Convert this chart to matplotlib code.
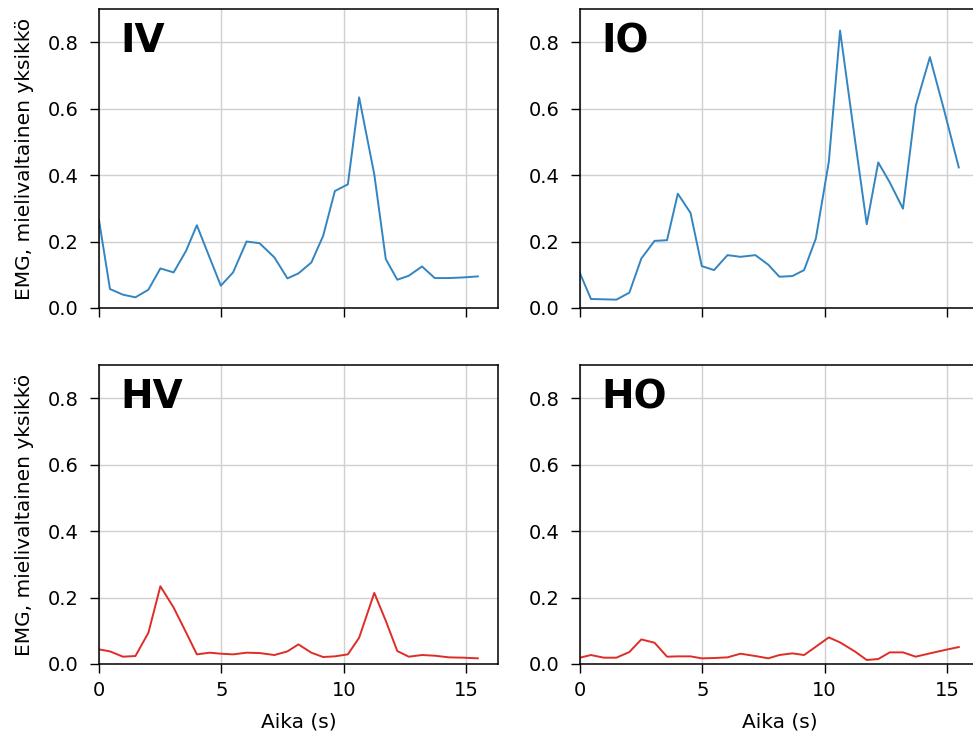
import numpy as np
import matplotlib
matplotlib.use("Agg")
import matplotlib.pyplot as plt

# time stamps (s), shared by all four panels
aika = [0.0, 0.45, 0.98, 1.49, 2.02, 2.51, 3.05, 3.56, 4.0, 4.52, 4.98,
        5.48, 6.03, 6.56, 7.17, 7.70, 8.15, 8.68, 9.16, 9.64, 10.17,
        10.63, 11.25, 11.72, 12.19, 12.66, 13.2, 13.72, 14.3, 14.9, 15.48]

# EMG, arbitrary units
iv = [0.265, 0.057, 0.040, 0.032, 0.055, 0.119, 0.107, 0.172, 0.249, 0.152, 0.067,
      0.107, 0.200, 0.195, 0.152, 0.089, 0.104, 0.137, 0.217, 0.352, 0.372,
      0.634, 0.402, 0.147, 0.085, 0.097, 0.125, 0.090, 0.090, 0.092, 0.095]
io = [0.105, 0.027, 0.026, 0.025, 0.046, 0.149, 0.202, 0.204, 0.344, 0.286, 0.126,
      0.114, 0.159, 0.154, 0.159, 0.130, 0.094, 0.096, 0.114, 0.209, 0.440,
      0.835, 0.500, 0.252, 0.438, 0.378, 0.299, 0.608, 0.755, 0.590, 0.423]
hv = [0.044, 0.038, 0.022, 0.024, 0.094, 0.234, 0.170, 0.095, 0.029, 0.034, 0.031,
      0.029, 0.034, 0.033, 0.027, 0.038, 0.059, 0.034, 0.021, 0.023, 0.029,
      0.079, 0.214, 0.130, 0.039, 0.022, 0.027, 0.025, 0.020, 0.019, 0.017]
ho = [0.019, 0.027, 0.019, 0.019, 0.036, 0.074, 0.064, 0.022, 0.023, 0.023, 0.017,
      0.018, 0.020, 0.031, 0.024, 0.017, 0.027, 0.032, 0.027, 0.052, 0.080,
      0.065, 0.037, 0.012, 0.015, 0.035, 0.035, 0.022, 0.032, 0.042, 0.051]

nimet = ["IV", "IO", "HV", "HO"]
sarjat = [iv, io, hv, ho]
sininen = "#3385c2"
punainen = "#de2d26"
varit = [sininen, sininen, punainen, punainen]

fig = plt.figure(figsize=(9.73, 7.35), dpi=100)

# axes boxes in figure fractions (right column runs past the edge, as in the original crop)
w, h = 0.410, 0.4068
paikat = [(0.1017, 0.581), (0.596, 0.581), (0.1017, 0.0966), (0.596, 0.0966)]

for i in range(4):
    ax = fig.add_axes([paikat[i][0], paikat[i][1], w, h])
    ax.plot(aika, sarjat[i], color=varit[i], lw=1.4)
    ax.set_xlim(0, 16.3)
    ax.set_ylim(0, 0.9)
    ax.set_xticks([0, 5, 10, 15])
    ax.set_yticks([0.0, 0.2, 0.4, 0.6, 0.8])
    ax.grid(True, color="#d0d0d0", lw=1.0)
    ax.set_axisbelow(True)
    ax.tick_params(labelsize=14, length=6.5, width=1.0, pad=5.5)
    ax.tick_params(axis="y", pad=8)
    for s in ax.spines.values():
        s.set_linewidth(1.1)
    ax.text(0.053, 0.856, nimet[i], transform=ax.transAxes, fontsize=28,
            fontweight="bold", ha="left", va="baseline")
    if i < 2:
        ax.tick_params(labelbottom=False)
    else:
        ax.set_xlabel("Aika (s)", fontsize=14.5, labelpad=9)
    if i % 2 == 0:
        ax.set_ylabel("EMG, mielivaltainen yksikkö", fontsize=14.5, labelpad=10)

plt.savefig("out.png", dpi=100)
